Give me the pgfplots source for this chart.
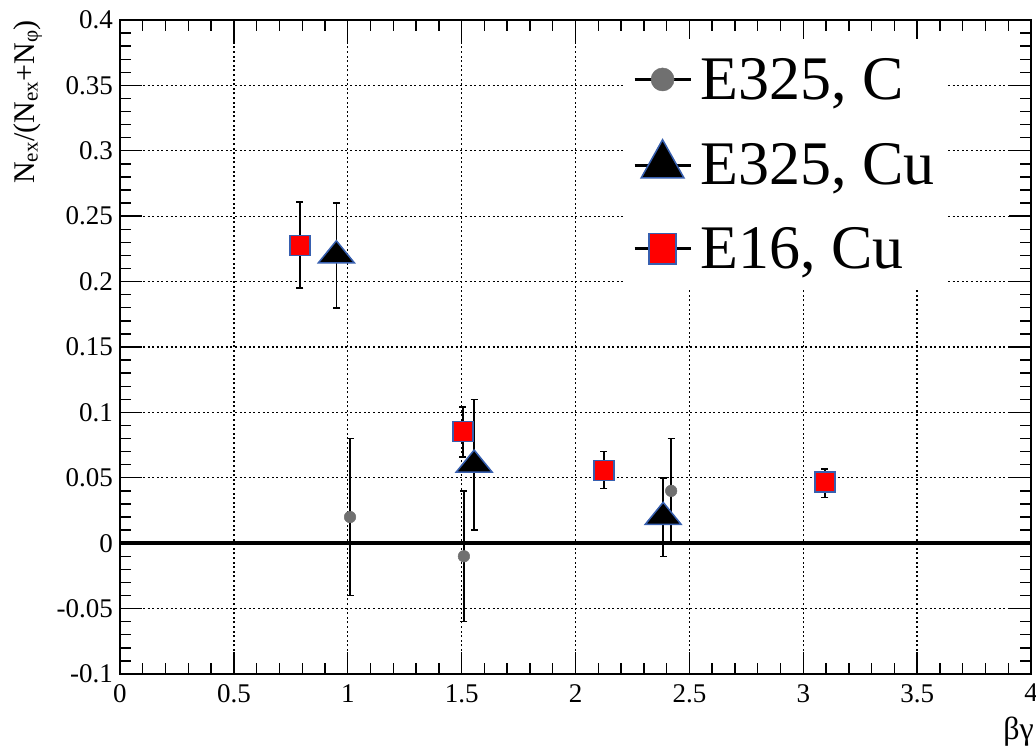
\documentclass[border=0pt]{standalone}
\usepackage{pgfplots}
\pgfplotsset{compat=1.18}
\usepackage{fontspec}
\setmainfont{Liberation Serif}
\definecolor{mkgray}{RGB}{112,112,112}
\definecolor{mkblue}{RGB}{55,95,175}
\definecolor{mkred}{RGB}{255,0,0}
\begin{document}
\begin{tikzpicture}
\useasboundingbox (-120pt,-78pt) rectangle (916pt,674pt);
\begin{axis}[
  scale only axis, width=911pt, height=654pt,
  xmin=0, xmax=4, ymin=-0.1, ymax=0.4,
  xtick={0,0.5,1,1.5,2,2.5,3,3.5,4},
  xticklabels={0,0.5,1,1.5,2,2.5,3,3.5,4},
  ytick={-0.1,-0.05,0,0.05,0.1,0.15,0.2,0.25,0.3,0.35,0.4},
  yticklabels={-0.1,-0.05,0,0.05,0.1,0.15,0.2,0.25,0.3,0.35,0.4},
  minor x tick num=4, minor y tick num=4,
  major tick length=22pt, minor tick length=11pt,
  tick align=inside, xtick pos=both, ytick pos=both,
  every tick/.style={black, line width=1.4pt},
  axis line style={black, line width=2pt},
  grid=major,
  major grid style={black, line width=1.3pt, dash pattern=on 2pt off 2.6pt},
  ticklabel style={font=\fontsize{27}{27}\selectfont},
  yticklabel style={anchor=east, inner sep=0pt, xshift=-7pt},
  xticklabel style={anchor=north, inner sep=0pt, yshift=-10pt},
  error bars/error bar style={black, line width=1.5pt},
  error bars/error mark options={rotate=90, black, mark size=3.5pt, line width=1.5pt},
  legend style={
    at={(0.552,0.971)}, anchor=north west,
    draw=none, fill=white,
    inner xsep=10pt, inner ysep=17pt,
    row sep=37pt,
    font=\fontsize{62}{62}\selectfont,
    cells={anchor=west},
    nodes={inner sep=2pt, text depth=0.15em},
  },
  legend cell align=left,
]
% zero line
\addplot[black, line width=3.5pt, forget plot] coordinates {(0,0) (4,0)};

% E325, C
\addplot[forget plot, only marks, mark=*, mark size=5.8pt,
  mark options={fill=mkgray, draw=mkgray, line width=0.5pt},
  error bars/.cd, y dir=both, y explicit]
  coordinates {
  (1.01,0.02) +- (0,0.06)
  (1.51,-0.01) +- (0,0.05)
  (2.42,0.04) +- (0,0.04)
};
% E325, Cu
\addplot[forget plot, only marks, mark=triangle*, mark size=14.7pt,
  mark options={fill=black, draw=mkblue, line width=1.5pt, xscale=1.41},
  error bars/.cd, y dir=both, y explicit]
  coordinates {
  (0.95,0.22) +- (0,0.04)
  (1.555,0.06) +- (0,0.05)
  (2.385,0.02) +- (0,0.03)
};
% E16, Cu (asymmetric errors)
\addplot[forget plot, only marks, mark=none, draw=none,
  error bars/.cd, y dir=minus, y explicit]
  coordinates {
  (0.79,0.2275) -= (0,0.0325)
  (1.505,0.0855) -= (0,0.0195)
  (2.125,0.0557) -= (0,0.0137)
  (3.095,0.0466) -= (0,0.0116)
};
\addplot[forget plot, only marks, mark=square*, mark size=10pt,
  mark options={fill=mkred, draw=mkblue, line width=1.5pt},
  error bars/.cd, y dir=plus, y explicit]
  coordinates {
  (0.79,0.2275) += (0,0.0335)
  (1.505,0.0855) += (0,0.0185)
  (2.125,0.0557) += (0,0.0143)
  (3.095,0.0466) += (0,0.0101)
};

\addlegendimage{legend image code/.code={
  \path[draw=none, fill=none] (0pt,-20pt) rectangle (64pt,20pt);
  \draw[black, line width=3pt] plot coordinates {(0pt,0pt) (56pt,0pt)};
  \path[draw=none, mark=*, mark size=11.5pt, mark options={fill=mkgray, draw=mkgray, line width=0.5pt}] plot coordinates {(28pt,0pt)};
}}
\addlegendentry{E325, C}
\addlegendimage{legend image code/.code={
  \path[draw=none, fill=none] (0pt,-20pt) rectangle (64pt,20pt);
  \draw[black, line width=3pt] plot coordinates {(0pt,0pt) (56pt,0pt)};
  \path[draw=none, mark=triangle*, mark size=25.5pt, mark options={fill=black, draw=mkblue, line width=1.5pt, xscale=0.97}] plot coordinates {(28pt,0pt)};
}}
\addlegendentry{E325, Cu}
\addlegendimage{legend image code/.code={
  \path[draw=none, fill=none] (0pt,-20pt) rectangle (64pt,20pt);
  \draw[black, line width=3pt] plot coordinates {(0pt,0pt) (56pt,0pt)};
  \path[draw=none, mark=square*, mark size=13.5pt, mark options={fill=mkred, draw=mkblue, line width=1.5pt, yscale=1.12}] plot coordinates {(28pt,0pt)};
}}
\addlegendentry{E16, Cu}
\end{axis}
\node[rotate=90, anchor=north east, inner sep=0pt, font=\fontsize{30}{30}\selectfont]
  at (-107pt,654pt) {N\textsubscript{ex}/(N\textsubscript{ex}+N\textsubscript{φ})};
\node[anchor=base east, inner sep=0pt, font=\fontsize{32}{32}\selectfont]
  at (914pt,-66pt) {βγ};
\end{tikzpicture}
\end{document}
